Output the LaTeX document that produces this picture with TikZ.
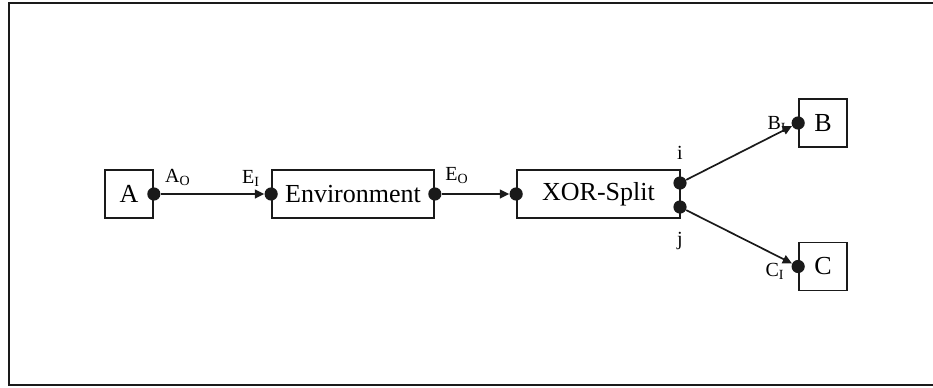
\documentclass[tikz,border=0pt]{standalone}
\usepackage{fontspec}
\setmainfont{Liberation Serif}
\usetikzlibrary{arrows.meta}
\definecolor{DiagramInk}{HTML}{1A1A1A}
\tikzset{
  block/.style={draw=DiagramInk, line width=.85pt, minimum height=24pt, inner sep=0pt, font=\fontsize{13}{15}\selectfont},
  port/.style={circle, fill=DiagramInk, inner sep=0pt, minimum size=6.6pt},
  link/.style={-{Triangle[length=4.6pt,width=4.4pt]}, line width=.85pt, draw=DiagramInk},
  tag/.style={font=\fontsize{10}{12}\selectfont, inner sep=0pt},
}

\begin{document}
\begin{tikzpicture}[x=.5pt, y=-.5pt]
  \useasboundingbox (0,0) rectangle (933,387);
  \draw[DiagramInk, line width=1.1pt] (940,3) -- (9,3) -- (9,385) -- (940,385);
  % blocks
  \node[block, minimum width=24pt] (a) at (129,194) {A};
  \node[block, minimum width=81pt] (env) at (353,194) {Environment};
  \node[block, minimum width=81.5pt] (xor) at (598.5,194) {XOR-Split};
  \node[block, minimum width=24pt] (b) at (823,123) {B};
  \node[block, minimum width=24pt] (c) at (823,266.5) {C};
  % ports on the block edges
  \node[port] (ao) at (a.east) {};
  \node[port] (ei) at (env.west) {};
  \node[port] (eo) at (env.east) {};
  \node[port] (xin) at (xor.west) {};
  \node[port] (xi) at (680,183) {};
  \node[port] (xj) at (680,207) {};
  \node[port] (bi) at (b.west) {};
  \node[port] (ci) at (c.west) {};
  % port names
  \node[tag] (aolbl) at (178,177) {A\textsubscript{O}};
  \node[tag] (eilbl) at (251,178) {E\textsubscript{I}};
  \node[tag] (eolbl) at (457,176) {E\textsubscript{O}};
  \node[tag] (xilbl) at (680,153) {i};
  \node[tag] (xjlbl) at (680,241) {j};
  \node[tag] (bilbl) at (777,124) {B\textsubscript{I}};
  \node[tag] (cilbl) at (775,271) {C\textsubscript{I}};
  % flows
  \draw[link] (ao) -- (ei);
  \draw[link] (eo) -- (xin);
  \draw[link] (xi) -- (bi);
  \draw[link] (xj) -- (ci);
\end{tikzpicture}
\end{document}
